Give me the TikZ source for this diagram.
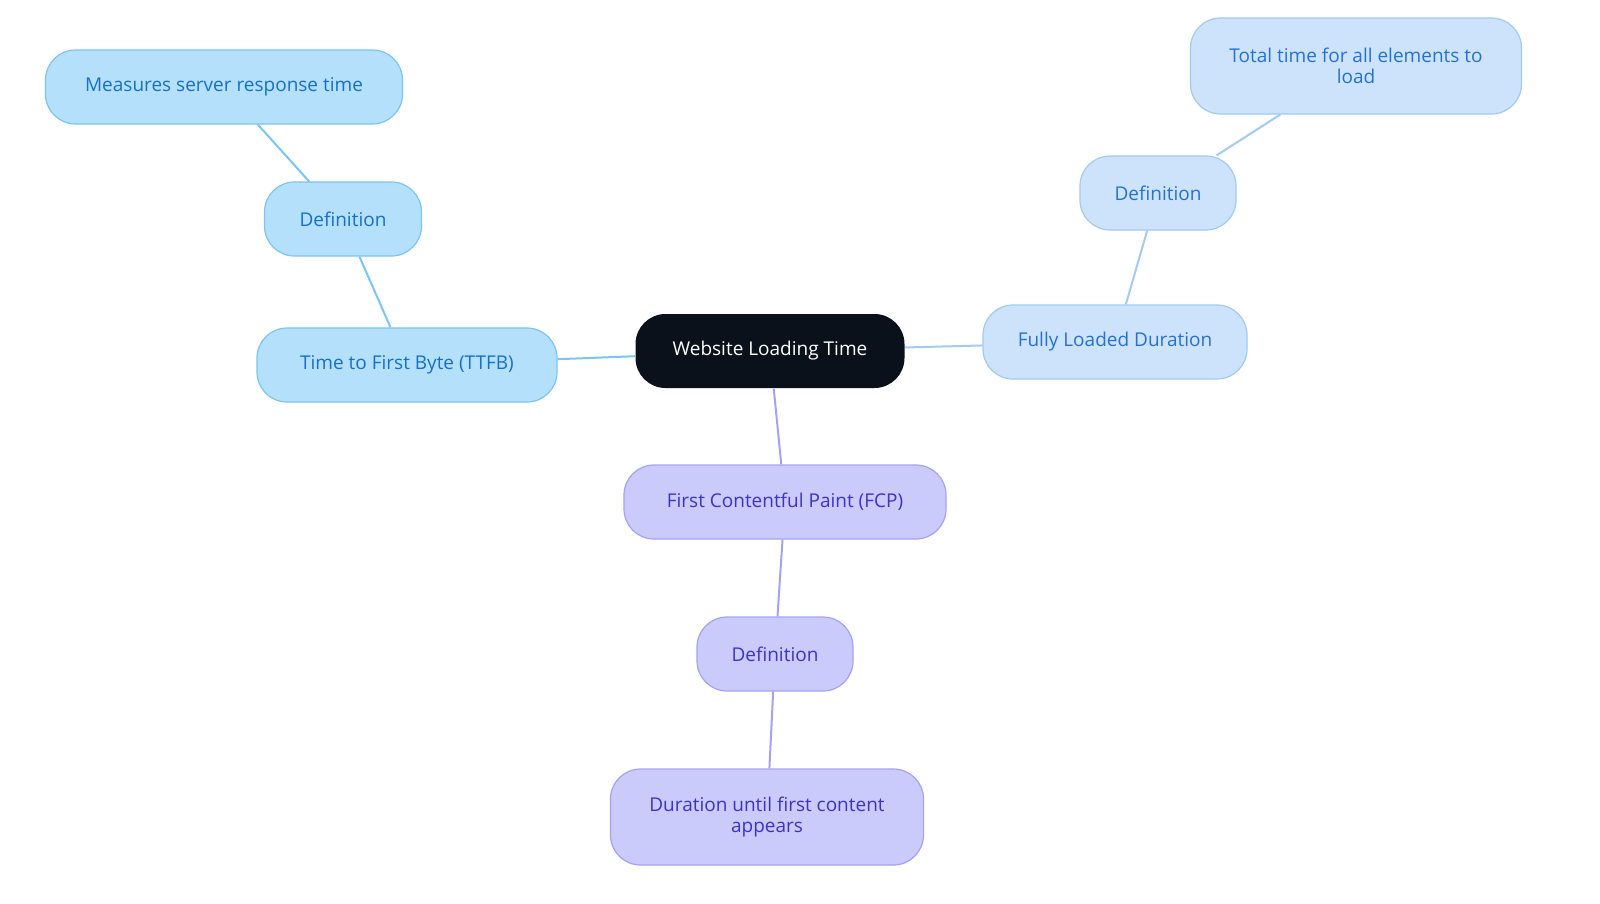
\documentclass[tikz,border=0pt]{standalone}
\usepackage{fontspec}
\setmainfont{Open Sans}
\definecolor{cdark}{HTML}{0B111B}
\definecolor{bfill}{HTML}{B5E0FC}\definecolor{bdraw}{HTML}{7DC4F3}\definecolor{btext}{HTML}{1670C4}
\definecolor{lfill}{HTML}{CDE3FB}\definecolor{ldraw}{HTML}{A2CAF2}\definecolor{ltext}{HTML}{2471D2}
\definecolor{pfill}{HTML}{CACAFB}\definecolor{pdraw}{HTML}{A3A3F1}\definecolor{ptext}{HTML}{3B34C6}
\begin{document}
\begin{tikzpicture}[x=1pt,y=-1pt,
 box/.style={rounded corners=30pt,line width=1.2pt,minimum height=74pt,align=center,font=\fontsize{19}{21}\selectfont,inner sep=0pt},
 bb/.style={box,fill=bfill,draw=bdraw,text=btext},
 lb/.style={box,fill=lfill,draw=ldraw,text=ltext},
 pb/.style={box,fill=pfill,draw=pdraw,text=ptext},
 bl/.style={draw=bdraw,line width=2pt},
 ll/.style={draw=ldraw,line width=2pt},
 pl/.style={draw=pdraw,line width=2pt}]
\useasboundingbox (0,0) rectangle (1600,903);
\node[box,fill=cdark,text=white,minimum width=269pt] (c) at (770,351) {Website Loading Time};
\node[bb,minimum width=300pt] (t) at (407,365) {Time to First Byte (TTFB)};
\node[bb,minimum width=157pt] (td) at (343,219) {Definition};
\node[bb,minimum width=357pt] (tm) at (224,87) {Measures server response time};
\node[lb,minimum width=264pt] (f) at (1115,342) {Fully Loaded Duration};
\node[lb,minimum width=156pt] (fd) at (1158,193) {Definition};
\node[lb,minimum width=331pt,minimum height=96pt] (ft) at (1356,66) {Total time for all elements to\\load};
\node[pb,minimum width=322pt] (p) at (785,502) {First Contentful Paint (FCP)};
\node[pb,minimum width=156pt] (pd) at (775,654) {Definition};
\node[pb,minimum width=313pt,minimum height=96pt] (pt) at (767,817) {Duration until first content\\appears};
\begin{scope}[on background layer/.style={}]
\end{scope}
\draw[bl] (c) -- (t); \draw[bl] (t) -- (td); \draw[bl] (td) -- (tm);
\draw[ll] (c) -- (f); \draw[ll] (f) -- (fd); \draw[ll] (fd) -- (ft);
\draw[pl] (c) -- (p); \draw[pl] (p) -- (pd); \draw[pl] (pd) -- (pt);
\end{tikzpicture}
\end{document}
